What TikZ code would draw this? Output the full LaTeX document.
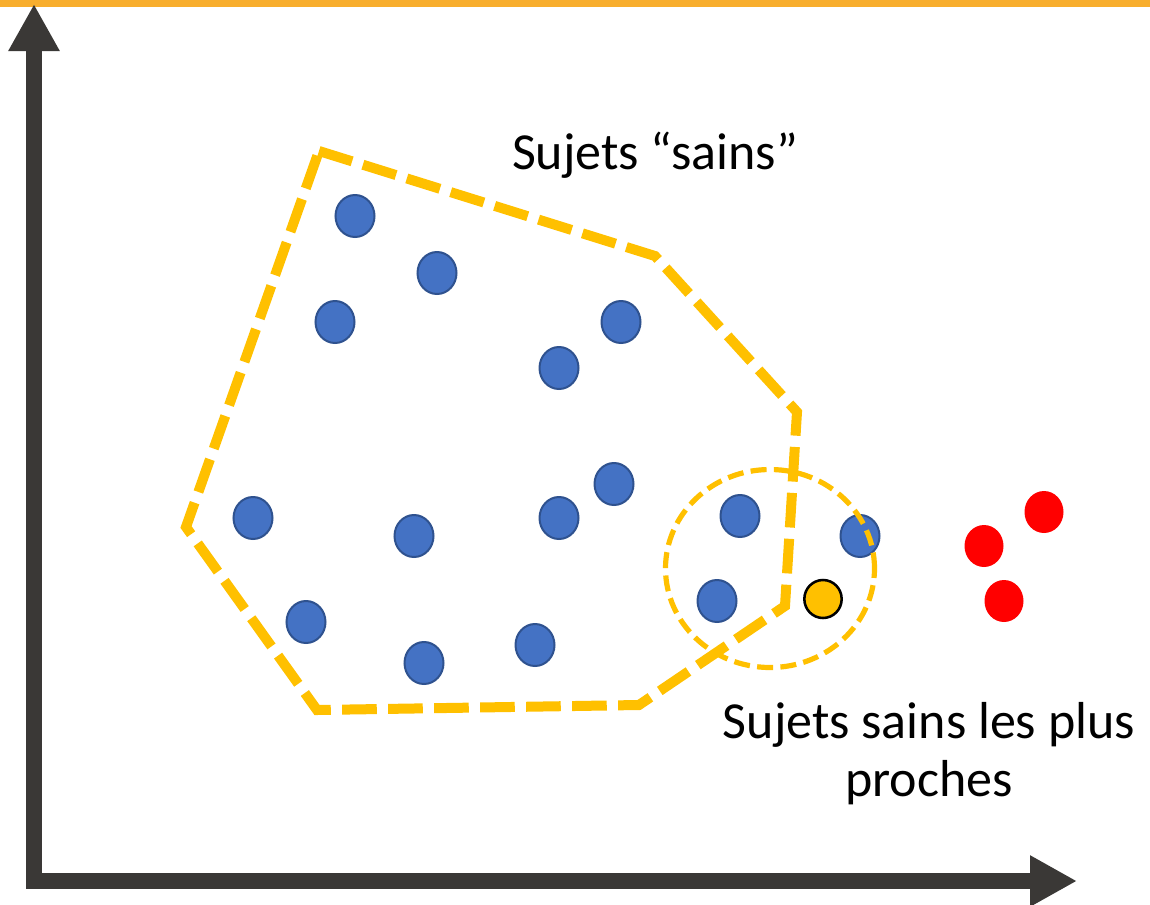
\documentclass[tikz,border=0pt]{standalone}
\usepackage{fontspec}
\setmainfont{Carlito}
\usetikzlibrary{arrows.meta,shapes.geometric}
\definecolor{axisgray}{HTML}{3A3836}
\definecolor{barorange}{HTML}{F8AE2E}
\definecolor{hullgold}{HTML}{FFC000}
\definecolor{ptblue}{HTML}{4472C4}
\definecolor{ptblueedge}{HTML}{2F528F}
\definecolor{ptred}{HTML}{FF0000}
\begin{document}
\begin{tikzpicture}[x=0.75pt,y=-0.75pt,
  healthy/.style={ellipse,fill=ptblue,draw=ptblueedge,line width=1.5pt,
    minimum width=29.25pt,minimum height=31.5pt,inner sep=0pt},
  sick/.style={ellipse,fill=ptred,minimum width=29.25pt,minimum height=31.5pt,inner sep=0pt},
  query/.style={ellipse,fill=hullgold,draw=black,line width=1.9pt,
    minimum width=28pt,minimum height=28.5pt,inner sep=0pt},
  hull/.style={draw=hullgold,line width=7.5pt,dash pattern=on 26pt off 8.5pt,line join=miter},
  neighbourhood/.style={ellipse,draw=hullgold,line width=3.9pt,dash pattern=on 12pt off 5.5pt,
    minimum width=156.75pt,minimum height=148.5pt,inner sep=0pt},
  label/.style={font=\fontsize{39pt}{43.5pt}\selectfont,text=black,inner sep=0pt,align=center}]
  \path[use as bounding box] (0,0) rectangle (1150,904);
  % top band
  \fill[barorange] (0,0) rectangle (1150,7);
  % axes
  \coordinate (ytip) at (34,4);
  \coordinate (origin) at (34,881);
  \coordinate (xtip) at (1077,881);
  \draw[axisgray,line width=12pt,line join=miter,
    {Triangle[length=35.25pt,width=36pt]}-{Triangle[length=35.25pt,width=36pt]}]
    (ytip) -- (origin) -- (xtip);
  % healthy subjects
  \node[healthy] (h1) at (355,216) {};
  \node[healthy] (h2) at (437,273) {};
  \node[healthy] (h3) at (335,322) {};
  \node[healthy] (h4) at (621,322) {};
  \node[healthy] (h5) at (559,368) {};
  \node[healthy] (h6) at (614,484) {};
  \node[healthy] (h7) at (253,518) {};
  \node[healthy] (h8) at (414,536) {};
  \node[healthy] (h9) at (559,518) {};
  \node[healthy] (h10) at (740,516) {};
  \node[healthy] (h11) at (860,536) {};
  \node[healthy] (h12) at (717,601) {};
  \node[healthy] (h13) at (306,622) {};
  \node[healthy] (h14) at (424,663) {};
  \node[healthy] (h15) at (535,645) {};
  % new subject
  \node[query] (q) at (823,599) {};
  % patients
  \node[sick] (s1) at (1044,512) {};
  \node[sick] (s2) at (984,546) {};
  \node[sick] (s3) at (1004,601) {};
  % neighbourhood of the new subject
  \node[neighbourhood] (nb) at (770,568.5) {};
  % envelope of the healthy group
  \coordinate (c1) at (319,151);
  \coordinate (c2) at (655,256);
  \coordinate (c3) at (797,412);
  \coordinate (c4) at (785,606);
  \coordinate (c5) at (639,705);
  \coordinate (c6) at (317,710);
  \coordinate (c7) at (186,527);
  \draw[hull] (c1) -- (c2) -- (c3) -- (c4) -- (c5) -- (c6) -- (c7) -- cycle;
  % labels (base anchor sits on the last line)
  \node[label,anchor=base] (t1) at (655,169) {Sujets “sains”};
  \node[label,anchor=base] (t2) at (929,796) {Sujets sains les plus\\proches};
\end{tikzpicture}
\end{document}
